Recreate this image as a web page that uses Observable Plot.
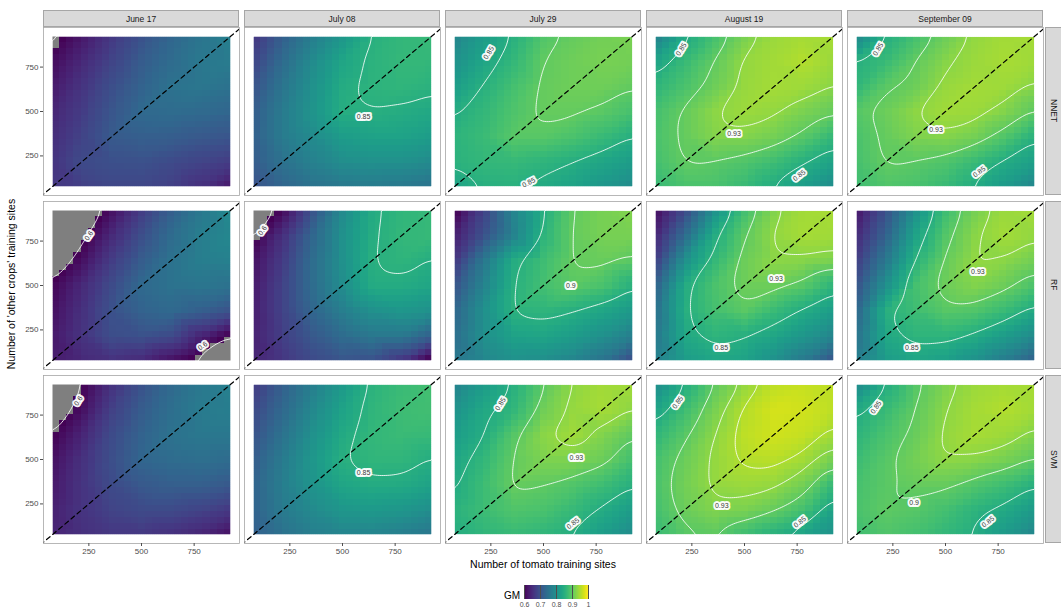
<!DOCTYPE html>
<html><head><meta charset="utf-8">
<script src="https://cdn.jsdelivr.net/npm/d3@7"></script>
<script src="https://cdn.jsdelivr.net/npm/@observablehq/plot@0.6"></script>
<style>
body{margin:0;background:#fff;font-family:"Liberation Sans",Arial,sans-serif;}
#root{position:relative;width:1061px;height:614px;overflow:hidden;background:#fff;}
.strip{position:absolute;background:#d9d9d9;border:0.7px solid #a6a6a6;box-sizing:border-box;font-size:8.5px;color:#1a1a1a;display:flex;align-items:center;justify-content:center;}
.vstrip{writing-mode:vertical-rl;}
.ttl{position:absolute;font-size:10.5px;color:#000;text-align:center;white-space:nowrap;}
</style></head><body><div id="root"></div>
<script>
// ---- categories / ticks ----
const methods = ["NNET", "RF", "SVM"];
const dates = ["June 17", "July 08", "July 29", "August 19", "September 09"];
const gridPos = [75, 217, 358, 500, 642, 783, 925];      // sample grid (training sites)
const axisTicks = [250, 500, 750];
const contourLevels = [0.6, 0.85, 0.9, 0.93, 0.95];
const legendTicks = [0.6, 0.7, 0.8, 0.9, 1];

// ---- GM values: rows y=925 (top) .. 75 (bottom), cols x=75 .. 925 ----
const nnetJun17 = [
0.585,0.625,0.665,0.70,0.73,0.755,0.775,
0.61,0.645,0.68,0.715,0.74,0.76,0.765,
0.625,0.66,0.695,0.725,0.75,0.757,0.75,
0.64,0.67,0.705,0.735,0.74,0.737,0.73,
0.65,0.68,0.712,0.72,0.718,0.71,0.705,
0.66,0.69,0.698,0.70,0.69,0.68,0.67,
0.665,0.675,0.685,0.685,0.675,0.655,0.625];
const nnetJul08 = [
0.66,0.72,0.77,0.81,0.852,0.865,0.87,
0.68,0.74,0.79,0.835,0.857,0.866,0.865,
0.70,0.755,0.80,0.845,0.858,0.862,0.855,
0.715,0.765,0.805,0.848,0.851,0.846,0.84,
0.72,0.765,0.79,0.82,0.83,0.83,0.82,
0.715,0.75,0.775,0.795,0.80,0.80,0.79,
0.70,0.73,0.75,0.76,0.765,0.76,0.75];
const nnetJul29 = [
0.78,0.82,0.852,0.89,0.905,0.915,0.92,
0.80,0.835,0.865,0.902,0.912,0.918,0.915,
0.82,0.853,0.88,0.905,0.912,0.912,0.903,
0.845,0.865,0.888,0.905,0.905,0.897,0.882,
0.858,0.872,0.895,0.895,0.885,0.87,0.849,
0.855,0.865,0.868,0.86,0.849,0.835,0.82,
0.83,0.851,0.853,0.842,0.83,0.81,0.79];
const nnetAug19 = [
0.77,0.84,0.88,0.918,0.94,0.947,0.948,
0.83,0.87,0.902,0.935,0.945,0.955,0.94,
0.86,0.885,0.91,0.937,0.946,0.942,0.93,
0.88,0.905,0.93,0.94,0.935,0.92,0.905,
0.885,0.905,0.925,0.925,0.915,0.895,0.865,
0.88,0.902,0.898,0.89,0.875,0.852,0.83,
0.87,0.885,0.885,0.87,0.845,0.82,0.79];
const nnetSep09 = [
0.78,0.848,0.88,0.91,0.935,0.945,0.947,
0.851,0.87,0.902,0.927,0.94,0.948,0.942,
0.862,0.897,0.91,0.937,0.945,0.942,0.928,
0.893,0.91,0.931,0.943,0.94,0.925,0.899,
0.885,0.905,0.922,0.926,0.915,0.89,0.853,
0.882,0.903,0.898,0.89,0.87,0.845,0.825,
0.875,0.89,0.885,0.87,0.845,0.815,0.78];
const rfJun17 = [
0.50,0.56,0.615,0.67,0.72,0.76,0.79,
0.53,0.59,0.645,0.695,0.74,0.77,0.785,
0.57,0.615,0.67,0.715,0.75,0.77,0.775,
0.603,0.645,0.69,0.735,0.75,0.755,0.75,
0.615,0.655,0.70,0.725,0.735,0.72,0.70,
0.625,0.66,0.695,0.70,0.69,0.64,0.595,
0.63,0.645,0.655,0.645,0.615,0.585,0.53];
const rfJul08 = [
0.56,0.61,0.70,0.79,0.845,0.862,0.87,
0.59,0.655,0.73,0.80,0.848,0.865,0.868,
0.615,0.67,0.74,0.80,0.853,0.86,0.848,
0.625,0.68,0.74,0.795,0.845,0.845,0.835,
0.63,0.68,0.73,0.77,0.80,0.81,0.80,
0.635,0.675,0.71,0.74,0.76,0.76,0.72,
0.64,0.665,0.69,0.705,0.70,0.66,0.585];
const rfJul29 = [
0.595,0.68,0.78,0.848,0.902,0.918,0.925,
0.63,0.70,0.775,0.858,0.905,0.918,0.918,
0.66,0.76,0.845,0.875,0.905,0.908,0.898,
0.70,0.78,0.852,0.88,0.897,0.885,0.853,
0.73,0.80,0.855,0.86,0.85,0.835,0.815,
0.745,0.80,0.83,0.835,0.82,0.80,0.77,
0.76,0.785,0.80,0.795,0.78,0.75,0.69];
const rfAug19 = [
0.61,0.69,0.80,0.878,0.925,0.945,0.948,
0.64,0.74,0.845,0.90,0.935,0.947,0.944,
0.67,0.80,0.865,0.91,0.931,0.928,0.922,
0.72,0.845,0.885,0.91,0.91,0.895,0.86,
0.745,0.85,0.88,0.897,0.87,0.845,0.82,
0.76,0.84,0.86,0.85,0.835,0.81,0.78,
0.775,0.82,0.835,0.83,0.80,0.76,0.70];
const rfSep09 = [
0.62,0.70,0.80,0.875,0.918,0.94,0.946,
0.645,0.725,0.83,0.892,0.93,0.945,0.935,
0.67,0.76,0.855,0.905,0.935,0.93,0.915,
0.70,0.80,0.88,0.91,0.925,0.91,0.885,
0.73,0.852,0.875,0.895,0.89,0.87,0.84,
0.75,0.84,0.86,0.86,0.845,0.82,0.79,
0.77,0.82,0.835,0.825,0.80,0.765,0.72];
const svmJun17 = [
0.55,0.598,0.655,0.70,0.735,0.76,0.775,
0.57,0.615,0.675,0.715,0.745,0.765,0.77,
0.597,0.64,0.69,0.725,0.75,0.76,0.76,
0.615,0.655,0.695,0.73,0.74,0.745,0.74,
0.625,0.66,0.69,0.71,0.72,0.72,0.71,
0.635,0.66,0.68,0.69,0.69,0.68,0.665,
0.64,0.655,0.665,0.665,0.655,0.64,0.615];
const svmJul08 = [
0.665,0.72,0.77,0.815,0.856,0.872,0.88,
0.685,0.735,0.785,0.83,0.862,0.875,0.878,
0.70,0.75,0.80,0.842,0.865,0.872,0.87,
0.715,0.765,0.81,0.851,0.862,0.862,0.848,
0.725,0.77,0.805,0.835,0.845,0.843,0.83,
0.725,0.765,0.79,0.81,0.815,0.81,0.795,
0.72,0.75,0.77,0.78,0.78,0.77,0.755];
const svmJul29 = [
0.775,0.82,0.851,0.898,0.932,0.945,0.945,
0.80,0.84,0.862,0.912,0.937,0.947,0.932,
0.82,0.847,0.893,0.929,0.943,0.925,0.901,
0.835,0.865,0.902,0.922,0.922,0.91,0.88,
0.843,0.875,0.905,0.90,0.89,0.875,0.851,
0.856,0.875,0.89,0.885,0.868,0.845,0.82,
0.847,0.862,0.87,0.862,0.847,0.82,0.79];
const svmAug19 = [
0.79,0.848,0.90,0.935,0.96,0.965,0.96,
0.83,0.875,0.918,0.955,0.975,0.972,0.96,
0.86,0.895,0.93,0.96,0.972,0.965,0.945,
0.88,0.91,0.935,0.955,0.958,0.945,0.915,
0.885,0.915,0.935,0.94,0.935,0.915,0.865,
0.88,0.91,0.925,0.92,0.905,0.88,0.83,
0.87,0.895,0.90,0.875,0.852,0.83,0.80];
const svmSep09 = [
0.785,0.847,0.893,0.922,0.94,0.946,0.948,
0.84,0.87,0.901,0.93,0.947,0.955,0.945,
0.858,0.885,0.907,0.935,0.948,0.942,0.925,
0.872,0.895,0.915,0.932,0.928,0.918,0.90,
0.882,0.897,0.905,0.905,0.89,0.875,0.851,
0.885,0.90,0.895,0.88,0.858,0.842,0.815,
0.875,0.89,0.88,0.865,0.846,0.815,0.78];

const panelArrays = [
  [nnetJun17, nnetJul08, nnetJul29, nnetAug19, nnetSep09],
  [rfJun17, rfJul08, rfJul29, rfAug19, rfSep09],
  [svmJun17, svmJul08, svmJul29, svmAug19, svmSep09]
];

// contour labels: method, date, x, y, text, angle
const contourLabels = [
 ["NNET","July 08",600,470,"0.85",0],
 ["NNET","July 29",240,830,"0.85",-58],
 ["NNET","July 29",430,100,"0.85",-28],
 ["NNET","August 19",200,850,"0.85",-58],
 ["NNET","August 19",450,375,"0.93",0],
 ["NNET","August 19",760,140,"0.85",-38],
 ["NNET","September 09",180,850,"0.85",-58],
 ["NNET","September 09",455,400,"0.93",0],
 ["NNET","September 09",660,160,"0.85",-38],
 ["RF","June 17",250,780,"0.6",-55],
 ["RF","June 17",790,160,"0.6",-35],
 ["RF","July 08",120,810,"0.6",-55],
 ["RF","July 29",630,500,"0.9",0],
 ["RF","August 19",650,540,"0.93",0],
 ["RF","August 19",390,150,"0.85",0],
 ["RF","September 09",654,580,"0.93",0],
 ["RF","September 09",340,150,"0.85",0],
 ["SVM","June 17",200,830,"0.6",-55],
 ["SVM","July 08",600,423,"0.85",0],
 ["SVM","July 29",296,812,"0.85",-58],
 ["SVM","July 29",656,512,"0.93",0],
 ["SVM","July 29",640,140,"0.85",-38],
 ["SVM","August 19",183,821,"0.85",-55],
 ["SVM","August 19",392,238,"0.93",0],
 ["SVM","August 19",763,148,"0.85",-38],
 ["SVM","September 09",170,793,"0.85",-55],
 ["SVM","September 09",351,256,"0.9",0],
 ["SVM","September 09",702,149,"0.85",-38]
];

const abline = {slope: 1, intercept: 0};

// ---- scale definitions ----
const ext = d3.extent(gridPos);
const stops = d3.range(41).map(i => +(0.6 + i * 0.01).toFixed(2));
const colorDomain = [0.5999, ...stops];
const colorRange = ["#7f7f7f", ...stops.map(v => d3.interpolateViridis((v - 0.6) / 0.4))];

function panelTable(vals) {
  const out = [];
  gridPos.slice().reverse().forEach((y, r) => gridPos.forEach((x, c) => out.push({x, y, v: vals[r * gridPos.length + c]})));
  return out;
}

const root = document.getElementById("root");
const L0 = 43, T0 = 27, colStep = 201, rowStep = 174, panelW = 196, panelH = 168;
const font = '"Liberation Sans", Arial, sans-serif';

const ablinePts = [ext[0] - 200, ext[1] + 200].map(x => ({x, y: abline.slope * x + abline.intercept}));

methods.forEach((m, r) => {
  dates.forEach((dt, c) => {
    const table = panelTable(panelArrays[r][c]);
    const labs = contourLabels.filter(d => d[0] === m && d[1] === dt);
    const ml = c === 0 ? 44 : 1, mr = 1, mt = 1, mb = r === 2 ? 16 : 1;
    const marks = [
      Plot.raster(table, {x: "x", y: "y", fill: "v", interpolate: "barycentric",
        x1: ext[0], x2: ext[1], y1: ext[0], y2: ext[1], width: 25, height: 25, imageRendering: "pixelated"}),
      Plot.contour(table, {x: "x", y: "y", value: "v", thresholds: contourLevels, interpolate: "barycentric", blur: 4,
        x1: ext[0], x2: ext[1], y1: ext[0], y2: ext[1], fill: "none", stroke: "white", strokeWidth: 0.9, strokeOpacity: 0.95}),
      Plot.frame({stroke: "white", strokeWidth: 18}),
      Plot.line(ablinePts, {x: "x", y: "y", stroke: "black", strokeWidth: 1.2, strokeDasharray: "4.5,3.5", clip: true}),
      Plot.text(labs, {x: d => d[2], y: d => d[3], text: d => d[4], rotate: d => d[5], fontSize: 7,
        fill: "#3a3a3a", stroke: "white", strokeWidth: 4, strokeOpacity: 0.95}),
      Plot.frame({stroke: "#a6a6a6", strokeWidth: 0.8})
    ];
    if (c === 0) marks.push(Plot.axisY({ticks: axisTicks, tickSize: 3, tickPadding: 2, label: null, fill: "#4d4d4d", stroke: "#4d4d4d"}));
    if (r === 2) marks.push(Plot.axisX({ticks: axisTicks, tickSize: 3, tickPadding: 2, label: null, fill: "#4d4d4d", stroke: "#4d4d4d"}));
    const svg = Plot.plot({
      width: panelW + ml + mr, height: panelH + mt + mb,
      marginLeft: ml, marginRight: mr, marginTop: mt, marginBottom: mb,
      x: {domain: ext, inset: 8.5, axis: r === 2 ? undefined : null},
      y: {domain: ext, inset: 8.5, axis: c === 0 ? undefined : null},
      color: {type: "linear", domain: colorDomain, range: colorRange, clamp: true, interpolate: "rgb"},
      style: {fontFamily: font, fontSize: "8px", overflow: "hidden", background: "white"},
      marks
    });
    svg.style.position = "absolute";
    svg.style.left = (L0 + c * colStep - ml) + "px";
    svg.style.top = (T0 + r * rowStep - mt) + "px";
    root.appendChild(svg);
  });
});

// strips
dates.forEach((dt, c) => {
  const s = document.createElement("div");
  s.className = "strip";
  s.style.left = (L0 + c * colStep) + "px"; s.style.top = "10px";
  s.style.width = panelW + "px"; s.style.height = "17px";
  s.textContent = dt;
  root.appendChild(s);
});
methods.forEach((m, r) => {
  const s = document.createElement("div");
  s.className = "strip vstrip";
  s.style.left = (L0 + 4 * colStep + panelW + 2) + "px"; s.style.top = (T0 + r * rowStep) + "px";
  s.style.width = "17px"; s.style.height = panelH + "px";
  s.textContent = m;
  root.appendChild(s);
});

// axis titles
const xt = document.createElement("div");
xt.className = "ttl"; xt.textContent = "Number of tomato training sites";
xt.style.left = (L0 + 500 - 200) + "px"; xt.style.width = "400px"; xt.style.top = "558px";
root.appendChild(xt);
const yt = document.createElement("div");
yt.className = "ttl"; yt.textContent = "Number of 'other crops' training sites";
yt.style.left = (11 - 200) + "px"; yt.style.width = "400px"; yt.style.top = (285 - 7) + "px";
yt.style.transform = "rotate(-90deg)";
root.appendChild(yt);

// legend
const gm = document.createElement("div");
gm.className = "ttl"; gm.textContent = "GM";
gm.style.left = "490px"; gm.style.width = "30px"; gm.style.textAlign = "right"; gm.style.top = "590px"; gm.style.fontSize = "10px";
root.appendChild(gm);
const leg = Plot.legend({
  color: {type: "linear", scheme: "viridis", domain: [0.6, 1]},
  label: null, width: 72, height: 27, marginLeft: 4, marginRight: 4, marginTop: 1, marginBottom: 12,
  tickSize: 0, ticks: legendTicks, tickFormat: d => String(d),
  style: {fontFamily: font, fontSize: "7px", color: "#4d4d4d", background: "white"}
});
leg.style.position = "absolute"; leg.style.left = "520px"; leg.style.top = "584px";
root.appendChild(leg);
</script></body></html>
